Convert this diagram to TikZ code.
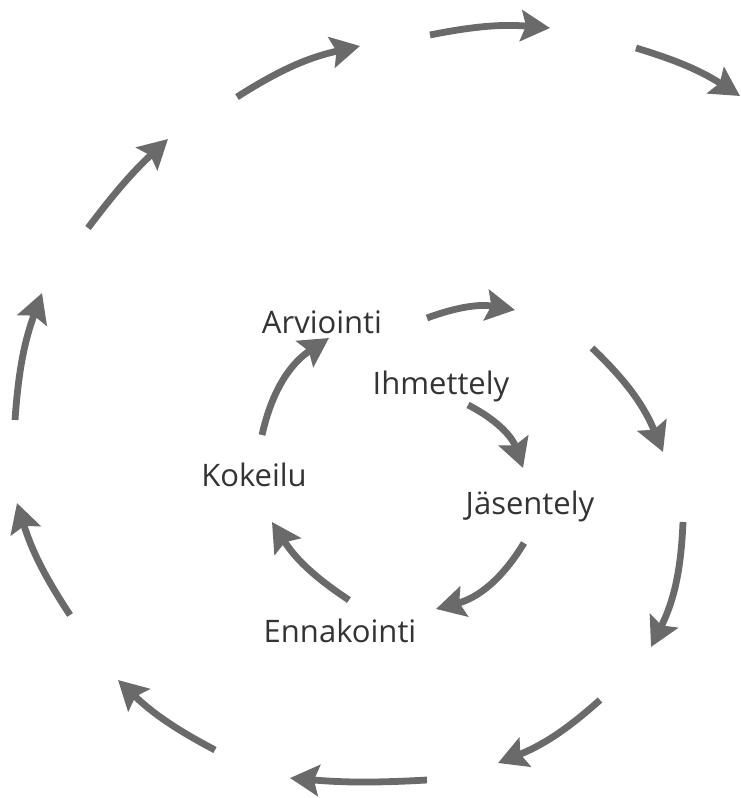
\documentclass[tikz,border=0pt]{standalone}
\usepackage{fontspec}
\setmainfont{Open Sans}
\usetikzlibrary{arrows.meta}
\definecolor{arrowgray}{HTML}{6A6A6A}
\definecolor{textgray}{HTML}{333333}
\tikzset{
  flow/.style={draw=arrowgray, line width=6.8pt,
    -{Triangle[length=29pt,width=31pt,inset=5pt]}},
  lbl/.style={text=textgray, font=\fontsize{31}{34}\selectfont, inner sep=0pt}
}
\begin{document}
\begin{tikzpicture}[x=1pt,y=-1pt]
\useasboundingbox (0,0) rectangle (740,798);
% labels
\node[lbl] (arv) at (322,322) {Arviointi};
\node[lbl] (ihm) at (441,386) {Ihmettely};
\node[lbl] (kok) at (254,475) {Kokeilu};
\node[lbl] (jas) at (530,506) {Jäsentely};
\node[lbl] (enn) at (340,631) {Ennakointi};
% arrow end points
\coordinate (a1s) at (237,97);  \coordinate (a1e) at (360,46);
\coordinate (a2s) at (430,35);  \coordinate (a2e) at (550,28);
\coordinate (a3s) at (636,48);  \coordinate (a3e) at (740,96);
\coordinate (a4s) at (88,228);  \coordinate (a4e) at (168,139);
\coordinate (a5s) at (15,420);  \coordinate (a5e) at (42,293);
\coordinate (a6s) at (70,615);  \coordinate (a6e) at (17,503);
\coordinate (a7s) at (215,750); \coordinate (a7e) at (118,680);
\coordinate (a8s) at (427,780); \coordinate (a8e) at (290,778);
\coordinate (a9s) at (600,700); \coordinate (a9e) at (498,763);
\coordinate (a10s) at (683,522); \coordinate (a10e) at (651,647);
\coordinate (a11s) at (592,348); \coordinate (a11e) at (663,452);
\coordinate (a12s) at (427,318); \coordinate (a12e) at (515,310);
\coordinate (i1s) at (262,435); \coordinate (i1e) at (329,338);
\coordinate (i2s) at (468,405); \coordinate (i2e) at (523,468);
\coordinate (i3s) at (524,543); \coordinate (i3e) at (436,609);
\coordinate (i4s) at (349,600); \coordinate (i4e) at (272,522);
% outer spiral
\draw[flow] (a1s) to[bend left=10] (a1e);
\draw[flow] (a2s) to[bend left=8] (a2e);
\draw[flow] (a3s) to[bend left=8] (a3e);
\draw[flow] (a4s) to[bend left=5] (a4e);
\draw[flow] (a5s) to[bend left=8] (a5e);
\draw[flow] (a6s) to[bend left=8] (a6e);
\draw[flow] (a7s) to[bend left=8] (a7e);
\draw[flow] (a8s) to[bend left=4] (a8e);
\draw[flow] (a9s) to[bend left=10] (a9e);
\draw[flow] (a10s) to[bend left=12] (a10e);
\draw[flow] (a11s) to[bend left=12] (a11e);
\draw[flow] (a12s) to[bend left=15] (a12e);
% inner cycle
\draw[flow] (i1s) to[bend left=22] (i1e);
\draw[flow] (i2s) to[bend left=22] (i2e);
\draw[flow] (i3s) to[bend left=22] (i3e);
\draw[flow] (i4s) to[bend left=12] (i4e);
\end{tikzpicture}
\end{document}
